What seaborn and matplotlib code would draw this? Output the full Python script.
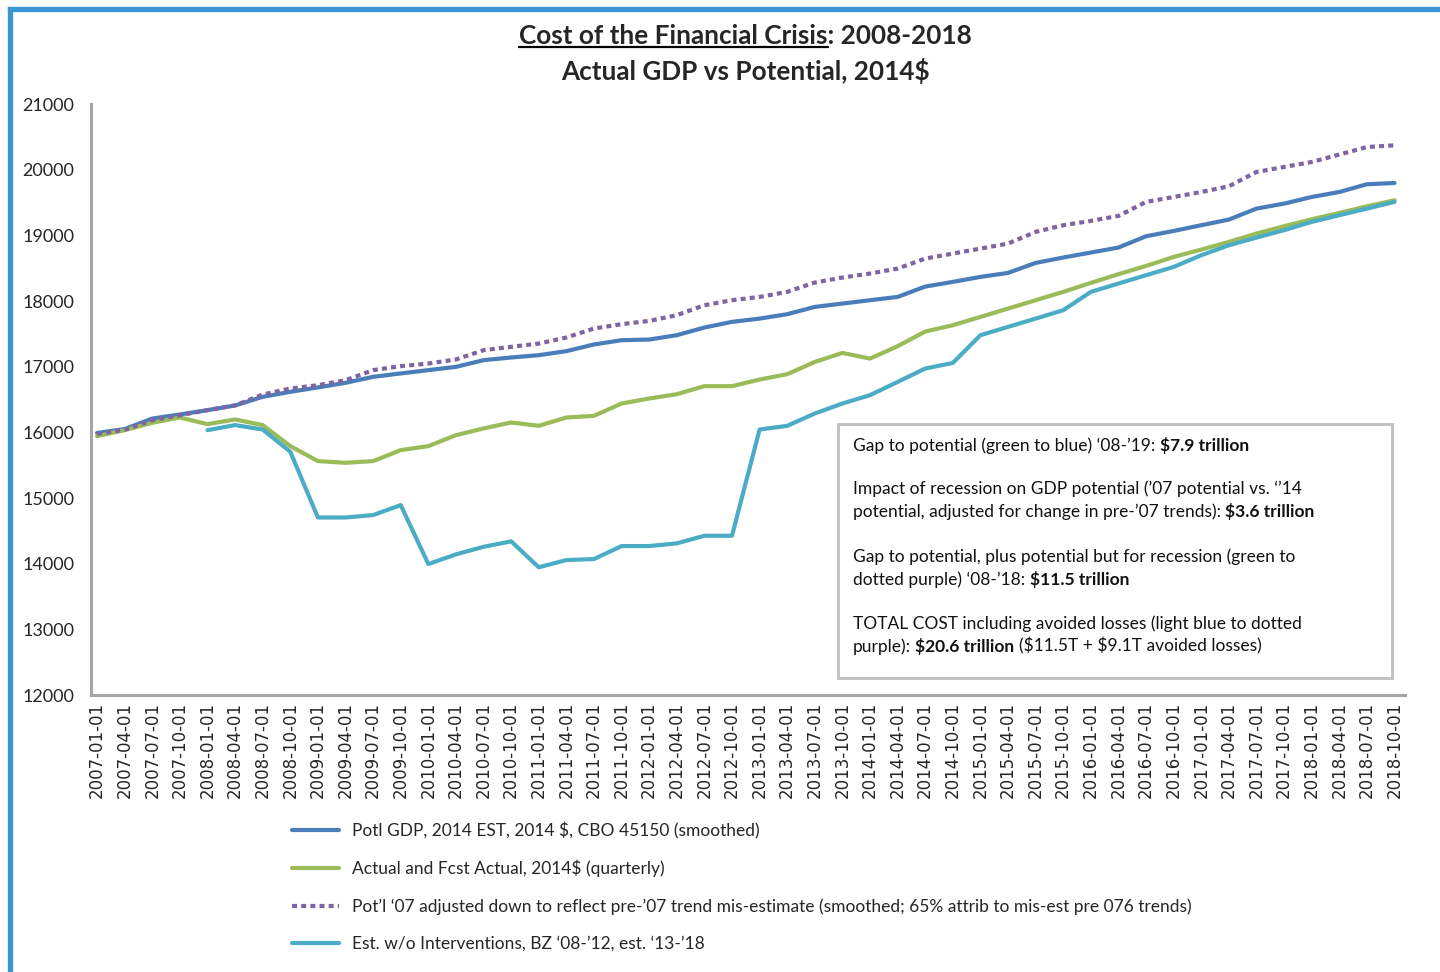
import numpy as np
import pandas as pd
import matplotlib
matplotlib.use("Agg")
import matplotlib.pyplot as plt
import seaborn as sns
from matplotlib.lines import Line2D
from matplotlib.patches import Rectangle
from matplotlib.offsetbox import TextArea, HPacker, AnnotationBbox

# ---------------- data ----------------
quarters = pd.date_range("2007-01-01", "2018-10-01", freq="QS").strftime("%Y-%m-%d").tolist()

potl_gdp = [15990, 16050, 16210, 16272, 16338, 16409, 16541, 16617, 16684, 16754,
            16845, 16897, 16947, 16997, 17099, 17140, 17175, 17236, 17338, 17403,
            17413, 17479, 17596, 17682, 17732, 17799, 17910, 17961, 18012, 18062,
            18220, 18291, 18367, 18428, 18580, 18662, 18738, 18814, 18986, 19067,
            19154, 19240, 19407, 19483, 19584, 19660, 19778, 19797]

actual_fcst = [15942, 16033, 16145, 16226, 16125, 16196, 16110, 15790, 15562, 15536,
               15562, 15729, 15790, 15957, 16059, 16150, 16099, 16226, 16251, 16439,
               16515, 16581, 16703, 16703, 16804, 16885, 17072, 17209, 17123, 17312,
               17535, 17631, 17758, 17885, 18012, 18139, 18276, 18408, 18534, 18671,
               18783, 18900, 19027, 19139, 19245, 19341, 19442, 19534]

potl_07_adj = [15975, 16040, 16186, 16260, 16338, 16410, 16576, 16667, 16718, 16794,
               16947, 17008, 17048, 17110, 17251, 17302, 17352, 17444, 17581, 17647,
               17697, 17784, 17936, 18012, 18062, 18139, 18281, 18357, 18418, 18494,
               18646, 18722, 18798, 18875, 19052, 19154, 19220, 19296, 19509, 19584,
               19660, 19747, 19965, 20041, 20117, 20230, 20345, 20371]

no_interventions = [np.nan, np.nan, np.nan, np.nan,
                    16033, 16110, 16043, 15704, 14703, 14703,
                    14740, 14892, 13994, 14141, 14257, 14340, 13945, 14055, 14070, 14268,
                    14268, 14309, 14425, 14425, 16043, 16099, 16287, 16439, 16566, 16768,
                    16971, 17057, 17479, 17606, 17732, 17860, 18139, 18266, 18393, 18519,
                    18697, 18849, 18966, 19078, 19205, 19306, 19407, 19509]

labels = ["Potl GDP, 2014 EST, 2014 $, CBO 45150 (smoothed)",
          "Actual and Fcst Actual, 2014$ (quarterly)",
          "Pot\u2019l \u201807 adjusted down to reflect pre-\u201907 trend mis-estimate (smoothed; 65% attrib to mis-est pre 076 trends)",
          "Est. w/o Interventions, BZ \u201808-\u201912, est. \u201813-\u201918"]

y_ticks = [12000, 13000, 14000, 15000, 16000, 17000, 18000, 19000, 20000, 21000]

# ---------------- styling ----------------
sns.set_style("white")
FONT = ["Lato", "DejaVu Sans"]
plt.rcParams["font.family"] = FONT

W, H = 1440, 972
fig = plt.figure(figsize=(W / 100, H / 100), dpi=100)
fig.patch.set_facecolor("white")

ax_l, ax_r, ax_t, ax_b = 91, 1405, 104, 695
ax = fig.add_axes([ax_l / W, 1 - ax_b / H, (ax_r - ax_l) / W, (ax_b - ax_t) / H])

C_BLUE = "#4A7EBB"
C_GREEN = "#9BBB59"
C_PURPLE = "#8064A2"
C_LBLUE = "#4BACC6"

idx = np.arange(len(quarters))
sns.lineplot(x=idx, y=potl_gdp, ax=ax, color=C_BLUE, lw=3.0, label=labels[0])
sns.lineplot(x=idx, y=actual_fcst, ax=ax, color=C_GREEN, lw=3.0, label=labels[1])
sns.lineplot(x=idx, y=potl_07_adj, ax=ax, color=C_PURPLE, lw=3.0, label=labels[2],
             linestyle=(0, (1.2, 1.0)), dash_capstyle="butt")
ni = pd.Series(no_interventions)
sns.lineplot(x=idx[ni.notna()], y=ni[ni.notna()].values, ax=ax, color=C_LBLUE, lw=3.0, label=labels[3])

ax.set_xlim(-0.22, 47.38)
ax.set_ylim(12000, 21000)
ax.set_yticks(y_ticks)
ax.set_yticklabels([str(v) for v in y_ticks], fontsize=13, family=FONT)
ax.set_xticks(idx)
ax.set_xticklabels(quarters, rotation=90, fontsize=12, family="DejaVu Sans")
ax.tick_params(axis="both", length=0)
ax.tick_params(axis="y", pad=12)
ax.tick_params(axis="x", pad=5)
ax.set_xlabel("")
ax.set_ylabel("")
for s in ["top", "right"]:
    ax.spines[s].set_visible(False)
for s in ["left", "bottom"]:
    ax.spines[s].set_color("#A6A6A6")
    ax.spines[s].set_linewidth(2.2)

# legend below
handles, lbls = ax.get_legend_handles_labels()
ax.get_legend().remove()
fig.legend(handles, lbls, loc="upper left", bbox_to_anchor=(292 / W, 1 - 822 / H),
           frameon=False, handlelength=2.7, handletextpad=0.75,
           labelspacing=1.2, borderpad=0, borderaxespad=0, prop={"family": FONT, "size": 12.5})

# outer blue frame
fig.add_artist(Line2D([9.5 / W, 9.5 / W], [0, 1 - 9.5 / H], color="#3A95D5", lw=3.8,
                      transform=fig.transFigure, solid_capstyle="projecting"))
fig.add_artist(Line2D([9.5 / W, 1], [1 - 9.5 / H, 1 - 9.5 / H], color="#3A95D5", lw=3.8,
                      transform=fig.transFigure, solid_capstyle="projecting"))

# title
TFS = 18.8
TX = 745.5 / W
t1 = fig.text(TX, 1 - 36 / H, "Cost of the Financial Crisis: 2008-2018", ha="center", va="center",
              fontsize=TFS, fontweight="bold", family=FONT, parse_math=False)
t2 = fig.text(TX, 1 - 71 / H, "Actual GDP vs Potential, 2014$", ha="center", va="center",
              fontsize=TFS, fontweight="bold", family=FONT, parse_math=False)
fig.canvas.draw()
r = fig.canvas.get_renderer()
bb = t1.get_window_extent(r)
tmp = fig.text(0, 0, "Cost of the Financial Crisis", fontsize=TFS, fontweight="bold", family=FONT)
wpref = tmp.get_window_extent(r).width
tmp.remove()
uy = bb.y0 + 1
fig.add_artist(Line2D([bb.x0 / W, (bb.x0 + wpref) / W], [uy / H, uy / H], color="black", lw=1.6,
                      transform=fig.transFigure))

# annotation box
fig.add_artist(Rectangle((838 / W, 1 - 678 / H), (1392 - 838) / W, (678 - 424) / H,
                         transform=fig.transFigure, fill=False, edgecolor="#BFBFBF", lw=2))

BOX_FS = 12.5


def rich_line(x, y, parts):
    areas = [TextArea(t, textprops=dict(fontsize=BOX_FS, fontweight=w, family=FONT,
                                        color="#111111", parse_math=False)) for t, w in parts]
    box = HPacker(children=areas, align="baseline", pad=0, sep=3.2)
    ab = AnnotationBbox(box, (x, H - y), xycoords="figure pixels", box_alignment=(0, 0.5),
                        frameon=False, pad=0)
    fig.add_artist(ab)


bx = 853
rich_line(bx, 445, [("Gap to potential (green to blue) \u201808-\u201919:", "normal"), ("$7.9 trillion", "bold")])
rich_line(bx, 489, [("Impact of recession on GDP potential (\u201907 potential vs. \u2018\u201914", "normal")])
rich_line(bx, 511, [("potential, adjusted for change in pre-\u201907 trends):", "normal"), ("$3.6 trillion", "bold")])
rich_line(bx, 557, [("Gap to potential, plus potential but for recession (green to", "normal")])
rich_line(bx, 579, [("dotted purple) \u201808-\u201918:", "normal"), ("$11.5 trillion", "bold")])
rich_line(bx, 624, [("TOTAL COST including avoided losses (light blue to dotted", "normal")])
rich_line(bx, 646, [("purple):", "normal"), ("$20.6 trillion", "bold"), ("($11.5T + $9.1T avoided losses)", "normal")])

fig.savefig("out.png", dpi=100, facecolor="white")
